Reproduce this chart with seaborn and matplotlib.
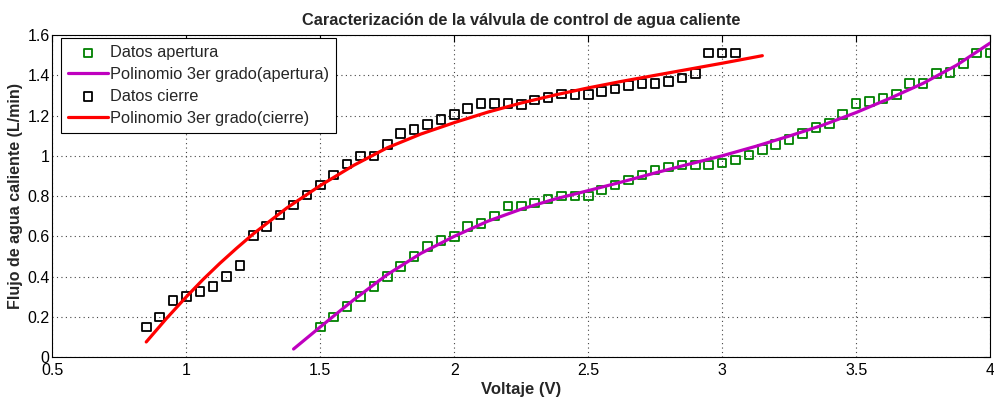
import numpy as np
import pandas as pd
import matplotlib
matplotlib.use("Agg")
import matplotlib.pyplot as plt
import seaborn as sns

# ---------------- data ----------------
ap_x = [1.50, 1.55, 1.60, 1.65, 1.70, 1.75, 1.80, 1.85, 1.90, 1.95,
        2.00, 2.05, 2.10, 2.15, 2.20, 2.25, 2.30, 2.35, 2.40, 2.45,
        2.50, 2.55, 2.60, 2.65, 2.70, 2.75, 2.80, 2.85, 2.90, 2.95,
        3.00, 3.05, 3.10, 3.15, 3.20, 3.25, 3.30, 3.35, 3.40, 3.45,
        3.50, 3.55, 3.60, 3.65, 3.70, 3.75, 3.80, 3.85, 3.90, 3.95, 4.00]
ap_y = [0.15, 0.20, 0.25, 0.30, 0.35, 0.40, 0.45, 0.50, 0.55, 0.58,
        0.60, 0.65, 0.665, 0.70, 0.75, 0.75, 0.765, 0.785, 0.80, 0.80,
        0.80, 0.83, 0.855, 0.88, 0.905, 0.93, 0.945, 0.955, 0.955, 0.955,
        0.965, 0.98, 1.005, 1.03, 1.055, 1.08, 1.11, 1.14, 1.16, 1.205,
        1.26, 1.27, 1.285, 1.305, 1.36, 1.36, 1.41, 1.415, 1.46, 1.51, 1.51]

ci_x = [0.85, 0.90, 0.95, 1.00, 1.05, 1.10, 1.15, 1.20, 1.25, 1.30,
        1.35, 1.40, 1.45, 1.50, 1.55, 1.60, 1.65, 1.70, 1.75, 1.80,
        1.85, 1.90, 1.95, 2.00, 2.05, 2.10, 2.15, 2.20, 2.25, 2.30,
        2.35, 2.40, 2.45, 2.50, 2.55, 2.60, 2.65, 2.70, 2.75, 2.80,
        2.85, 2.90, 2.95, 3.00, 3.05]
ci_y = [0.15, 0.20, 0.28, 0.30, 0.325, 0.35, 0.40, 0.455, 0.605, 0.65,
        0.705, 0.755, 0.805, 0.855, 0.905, 0.96, 1.00, 1.00, 1.055, 1.11,
        1.13, 1.155, 1.18, 1.205, 1.235, 1.26, 1.26, 1.26, 1.255, 1.277,
        1.29, 1.308, 1.306, 1.306, 1.32, 1.332, 1.348, 1.36, 1.36, 1.37,
        1.386, 1.41, 1.51, 1.51, 1.51]

# fitted curves
ap_fit_x = [1.40, 1.50, 1.625, 1.75, 1.875, 2.00, 2.125, 2.25, 2.375, 2.50,
            2.625, 2.75, 2.875, 3.00, 3.125, 3.25, 3.375, 3.50, 3.625, 3.75,
            3.875, 4.00]
ap_fit_y = [0.04, 0.15, 0.285, 0.41, 0.515, 0.60, 0.675, 0.735, 0.785, 0.827,
            0.87, 0.915, 0.958, 1.00, 1.047, 1.098, 1.152, 1.215, 1.285, 1.36,
            1.45, 1.56]

ci_fit_x = [0.85, 0.925, 1.00, 1.0625, 1.125, 1.1875, 1.25, 1.375, 1.50,
            1.625, 1.75, 1.875, 2.00, 2.125, 2.25, 2.375, 2.50, 2.625, 2.75,
            2.875, 3.00, 3.15]
ci_fit_y = [0.075, 0.191, 0.30, 0.386, 0.466, 0.541, 0.6125, 0.741, 0.8525,
            0.953, 1.04, 1.108, 1.165, 1.217, 1.2625, 1.302, 1.3375, 1.37,
            1.40, 1.43, 1.46, 1.4975]

x_ticks = [0.5, 1, 1.5, 2, 2.5, 3, 3.5, 4]
x_tick_labels = ["0.5", "1", "1.5", "2", "2.5", "3", "3.5", "4"]
y_ticks = [0, 0.2, 0.4, 0.6, 0.8, 1.0, 1.2, 1.4, 1.6]
y_tick_labels = ["0", "0.2", "0.4", "0.6", "0.8", "1", "1.2", "1.4", "1.6"]

labels = ["Datos apertura", "Polinomio 3er grado(apertura)",
          "Datos cierre", "Polinomio 3er grado(cierre)"]

# ---------------- plot ----------------
sns.set_style("white")
plt.rcParams["font.family"] = ["Liberation Sans", "DejaVu Sans"]

fig = plt.figure(figsize=(9.94, 4.03), dpi=100)
ax = fig.add_axes([0.0528, 0.114, 0.9432, 0.799])

green = "#008000"
magenta = "#BF00BF"
red = "#FF0000"

df_ap = pd.DataFrame({"x": ap_x, "y": ap_y})
df_ci = pd.DataFrame({"x": ci_x, "y": ci_y})
df_apf = pd.DataFrame({"x": ap_fit_x, "y": ap_fit_y})
df_cif = pd.DataFrame({"x": ci_fit_x, "y": ci_fit_y})

sns.scatterplot(data=df_ap, x="x", y="y", ax=ax, marker="s", s=38,
                facecolor="none", edgecolor=green, linewidth=1.3,
                label=labels[0], zorder=3)
sns.lineplot(data=df_apf, x="x", y="y", ax=ax, color=magenta, linewidth=2.3,
             sort=False, estimator=None, label=labels[1], zorder=4)
sns.scatterplot(data=df_ci, x="x", y="y", ax=ax, marker="s", s=38,
                facecolor="none", edgecolor="black", linewidth=1.3,
                label=labels[2], zorder=3)
sns.lineplot(data=df_cif, x="x", y="y", ax=ax, color=red, linewidth=2.3,
             sort=False, estimator=None, label=labels[3], zorder=4)

ax.set_xlim(0.5, 4)
ax.set_ylim(0, 1.6)
ax.set_xticks(x_ticks)
ax.set_xticklabels(x_tick_labels)
ax.set_yticks(y_ticks)
ax.set_yticklabels(y_tick_labels)
ax.tick_params(direction="in", length=5, width=0.8, top=True, right=True,
               labelsize=11.5, colors="black")
ax.tick_params(axis="y", pad=2)
ax.tick_params(axis="x", pad=4)
ax.grid(True, color="#444444", linestyle=(0, (1, 3)), linewidth=0.8)
for sp in ax.spines.values():
    sp.set_visible(True)
    sp.set_color("black")
    sp.set_linewidth(0.8)

ax.set_xlabel("Voltaje (V)", fontsize=12, fontweight="bold", labelpad=3)
ax.set_ylabel("Flujo de agua caliente (L/min)", fontsize=11.5,
              fontweight="bold", labelpad=3)
ax.set_title("Caracterización de la válvula de control de agua caliente",
             fontsize=11.8, fontweight="bold", pad=7)

leg = ax.legend(loc="upper left", bbox_to_anchor=(0.0095, 0.99), fontsize=11.8,
                frameon=True, fancybox=False, framealpha=1, edgecolor="black",
                handlelength=2.4, handletextpad=0.15, borderpad=0.42,
                labelspacing=0.42, borderaxespad=0.0)
leg.get_frame().set_linewidth(0.8)

fig.savefig("out.png", dpi=100, facecolor="white")
